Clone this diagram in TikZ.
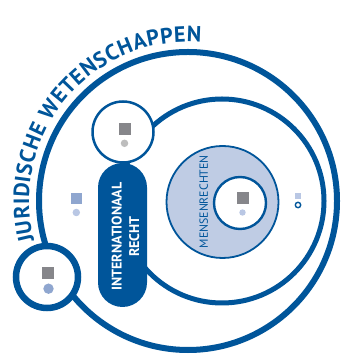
\documentclass[tikz,border=0pt]{standalone}
\usepackage{fontspec}
\usepackage{tikz}
\usetikzlibrary{positioning,decorations.text}
\newfontfamily\labelfont{PT Sans}
\definecolor{uniblue}{HTML}{00559A}
\definecolor{paleblue}{HTML}{BFCCE4}
\definecolor{midblue}{HTML}{8FA6CF}
\definecolor{dotblue}{HTML}{B9C7E4}
\definecolor{markgray}{HTML}{86868A}
\definecolor{dotgray}{HTML}{BDBDBD}

\begin{document}
\begin{tikzpicture}[
    x=1pt, y=1pt,
    ringBox/.style={circle, draw=uniblue, fill=white, inner sep=0pt, outer sep=0pt},
    markSquare/.style={rectangle, inner sep=0pt, minimum size=12pt, fill=markgray},
    markDot/.style={circle, inner sep=0pt, minimum size=7.5pt},
    pillBox/.style={rectangle, rounded corners=24.5pt, fill=uniblue, inner sep=0pt, minimum width=49pt, minimum height=144pt}
]
    \useasboundingbox (0,0) rectangle (342,355);

    % rings
    \node[ringBox, line width=6pt, fill=none, minimum size=298pt] (juridisch) at (188,154) {};
    \node[ringBox, line width=5pt, fill=none, minimum size=204pt] (internat) at (222,154) {};
    \node[ringBox, line width=1.8pt, fill=paleblue, minimum size=112pt] (mensen) at (222.5,153) {};
    \node[ringBox, line width=2.4pt, minimum size=52pt] (kern) at (240,152) {};

    % pill
    \node[pillBox] (pill) at (122.5,120) {};
    \node[font=\labelfont\bfseries\fontsize{14}{17.5}\selectfont, text=white, rotate=90, align=center] (pilltext) at (125.5,118.5) {INTERNATIONAAL\\RECHT};

    % small circles
    \node[ringBox, line width=2.5pt, minimum size=61pt] (topring) at (123,223) {};
    \node[ringBox, line width=6.5pt, minimum size=62pt] (cornerring) at (47,78) {};

    % markers
    \node[markSquare] (topsq) at (125,226.2) {};
    \node[markDot, fill=dotgray] (topdot) at (124.5,211.7) {};
    \node[markSquare] (kernsq) at (243,157) {};
    \node[markDot, fill=dotblue, minimum size=6.4pt] (kerndot) at (242.5,142.5) {};
    \node[markSquare, fill=midblue, minimum size=11.3pt] (leftsq) at (76.7,156.3) {};
    \node[markDot, fill=dotblue] (leftdot) at (76.3,142.5) {};
    \node[markSquare] (cornersq) at (47.8,82.2) {};
    \node[markDot, fill=midblue, minimum size=10.4pt] (cornerdot) at (48.5,66.3) {};
    \node[markSquare, fill=dotblue, minimum size=6pt] (rightsq) at (298,159.3) {};
    \node[markDot, draw=uniblue, line width=1.4pt, minimum size=5.4pt] (rightdot) at (298,150) {};

    % labels
    \node[font=\labelfont\fontsize{11.8}{11.8}\selectfont, text=uniblue, rotate=90] (mensenlabel) at (203.7,153.3) {MENSENRECHTEN};
    \path[decorate, decoration={text along path, text align={fit to path},
        text={|\labelfont\bfseries\fontsize{22}{22}\selectfont\color{uniblue}|JURIDISCHE WETENSCHAPPEN}}]
        (juridisch.center) ++(194.5:159) arc[start angle=194.5, end angle=85.3, radius=159];
\end{tikzpicture}
\end{document}
